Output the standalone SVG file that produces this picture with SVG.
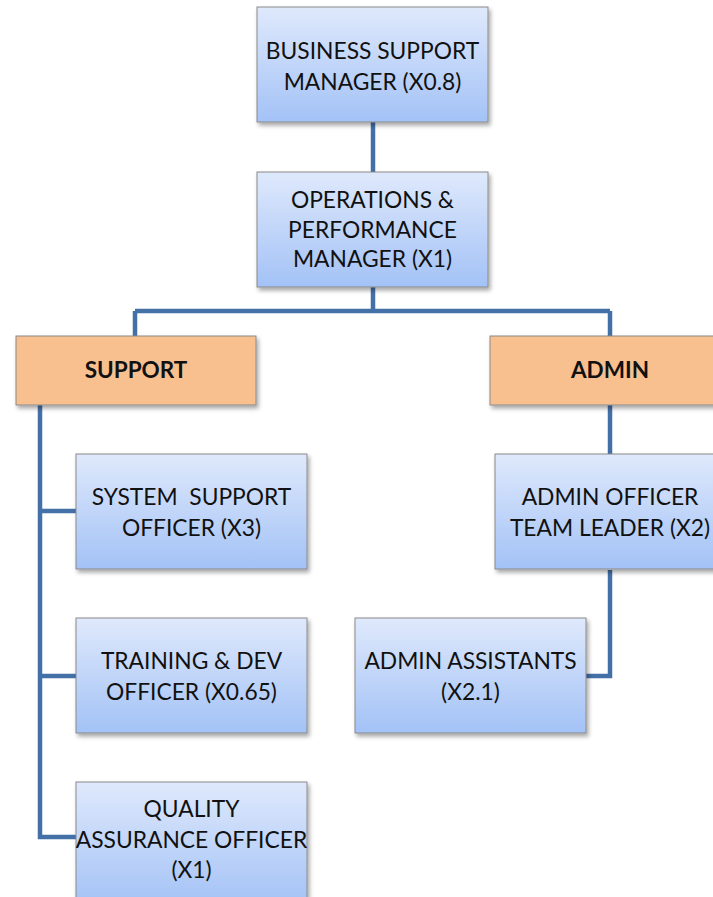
<svg xmlns="http://www.w3.org/2000/svg" width="713" height="897" viewBox="0 0 713 897">
<defs>
<linearGradient id="blue" x1="0" y1="0" x2="0" y2="1">
<stop offset="0" stop-color="#dfe9fc"/>
<stop offset="1" stop-color="#a3c2f6"/>
</linearGradient>
<filter id="sh" x="-10%" y="-10%" width="125%" height="130%">
<feDropShadow dx="2" dy="3" stdDeviation="2" flood-color="#000" flood-opacity="0.35"/>
</filter>
</defs>
<style>
.box{fill:url(#blue);stroke:#8a8a8a;stroke-width:1;filter:url(#sh)}
.org{fill:#f8bf8f;stroke:#8a8a8a;stroke-width:1;filter:url(#sh)}
.t{font-family:Lato,"Liberation Sans",sans-serif;font-size:22.8px;fill:#111;text-anchor:middle}
.b{font-family:Lato,"Liberation Sans",sans-serif;font-size:22.5px;font-weight:bold;fill:#111;text-anchor:middle}
.c{fill:none;stroke:#4470a8;stroke-width:4.5;stroke-linejoin:miter}
</style>
<rect width="713" height="897" fill="#fff"/>
<g id="connectors">
<path class="c" d="M373,122 V172"/>
<path class="c" d="M373,287 V311 M135,311 H610 M135,311 V336 M610,311 V336"/>
<path class="c" d="M40,405 V837 H76 M40,511 H76 M40,676 H76"/>
<path class="c" d="M610,405 V455 M610,570 V676 H586"/>
</g>
<g id="business-support-manager">
<rect class="box" x="257" y="7" width="231" height="115"/>
<text class="t" x="372.5" y="59">BUSINESS SUPPORT</text>
<text class="t" x="372.5" y="90">MANAGER (X0.8)</text>
</g>
<g id="operations-performance-manager">
<rect class="box" x="257" y="172" width="231" height="115"/>
<text class="t" x="372.5" y="208">OPERATIONS &amp;</text>
<text class="t" x="372.5" y="237.5">PERFORMANCE</text>
<text class="t" x="372.5" y="267">MANAGER (X1)</text>
</g>
<g id="support">
<rect class="org" x="16" y="336" width="240" height="69"/>
<text class="b" x="136" y="378">SUPPORT</text>
</g>
<g id="admin">
<rect class="org" x="490" y="336" width="240" height="69"/>
<text class="b" x="610" y="378">ADMIN</text>
</g>
<g id="system-support-officer">
<rect class="box" x="76" y="454" width="231" height="115"/>
<text class="t" x="191.5" y="505" xml:space="preserve">SYSTEM  SUPPORT</text>
<text class="t" x="191.5" y="536">OFFICER (X3)</text>
</g>
<g id="training-dev-officer">
<rect class="box" x="76" y="618" width="231" height="115"/>
<text class="t" x="191.5" y="669">TRAINING &amp; DEV</text>
<text class="t" x="191.5" y="700">OFFICER (X0.65)</text>
</g>
<g id="quality-assurance-officer">
<rect class="box" x="76" y="782" width="231" height="125"/>
<text class="t" x="191.5" y="817">QUALITY</text>
<text class="t" x="191.5" y="847.5">ASSURANCE OFFICER</text>
<text class="t" x="191.5" y="878">(X1)</text>
</g>
<g id="admin-officer-team-leader">
<rect class="box" x="495" y="454" width="240" height="115"/>
<text class="t" x="610" y="505">ADMIN OFFICER</text>
<text class="t" x="610" y="536">TEAM LEADER (X2)</text>
</g>
<g id="admin-assistants">
<rect class="box" x="355" y="618" width="231" height="115"/>
<text class="t" x="470.5" y="669">ADMIN ASSISTANTS</text>
<text class="t" x="470.5" y="700">(X2.1)</text>
</g>
</svg>
